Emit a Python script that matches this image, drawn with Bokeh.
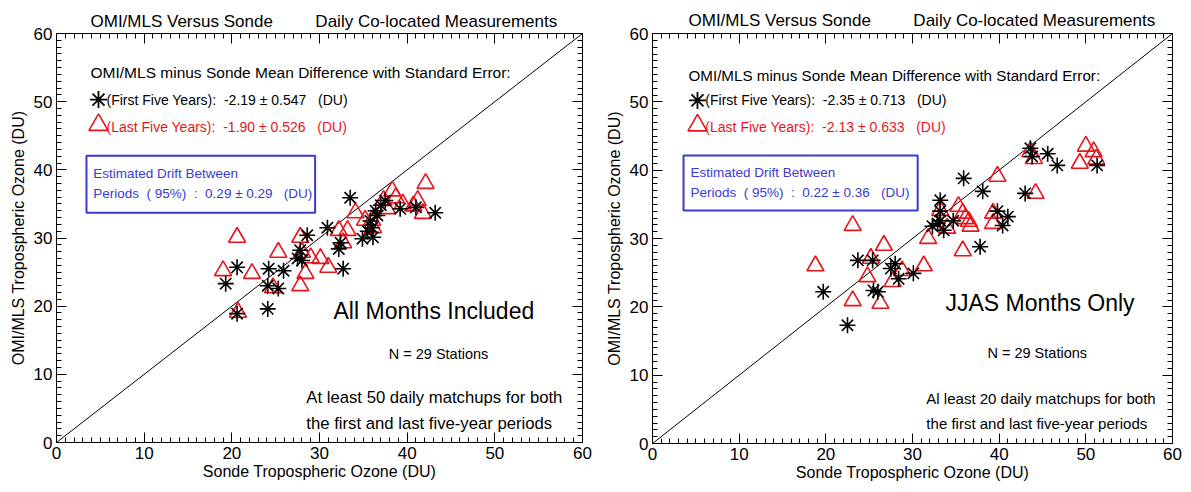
from bokeh.plotting import figure
from bokeh.models import (Range1d, SingleIntervalTicker, LinearAxis, Label, BoxAnnotation, Title)
from bokeh.layouts import row
from bokeh.embed import file_html
from bokeh.resources import INLINE

# ---------------- data ----------------
# All months panel
all_first_x = [19.3, 20.6, 20.6, 24.1, 24.2, 24.1, 25.9, 25.3, 27.8, 28.0, 28.6, 30.9, 32.4, 32.2,
               32.7, 33.5, 34.9, 36.1, 36.4, 36.6, 37.5, 39.2, 43.2, 36.0, 35.5, 41.0, 37.0, 27.5, 35.8]
all_first_y = [23.3, 25.7, 18.9, 19.6, 25.5, 23.0, 25.2, 22.6, 28.2, 26.7, 30.4, 31.5, 29.3, 28.4,
               25.5, 35.9, 29.9, 30.1, 34.0, 33.3, 35.5, 34.3, 33.7, 31.5, 31.0, 34.5, 34.8, 27.0, 32.5]
all_last_x = [20.6, 19.0, 20.7, 22.3, 25.3, 24.7, 27.8, 28.0, 28.4, 27.8, 30.1, 31.0, 29.0, 32.2,
              33.2, 32.7, 34.1, 35.2, 36.0, 36.1, 37.3, 38.3, 38.7, 39.5, 40.7, 41.2, 42.1, 41.8, 37.7]
all_last_y = [30.1, 25.2, 19.1, 24.8, 27.9, 22.7, 30.1, 27.9, 24.8, 23.0, 27.0, 25.7, 27.1, 31.1,
              31.1, 29.3, 33.7, 32.6, 32.6, 31.5, 35.5, 36.9, 35.9, 35.0, 34.7, 35.5, 38.0, 33.6, 34.3]

# JJAS panel
jjas_first_x = [22.5, 19.7, 23.7, 25.4, 25.5, 26.0, 27.5, 28.0, 28.4, 30.1, 32.3, 32.9, 33.2, 33.2,
                33.6, 34.7, 35.9, 37.8, 38.1, 39.8, 40.4, 41.0, 43.0, 43.6, 43.8, 45.6, 46.7, 51.3, 33.2]
jjas_first_y = [17.3, 22.2, 26.8, 26.8, 22.4, 22.2, 25.6, 26.3, 24.1, 24.9, 31.8, 32.2, 35.6, 34.0,
                31.2, 32.6, 38.8, 28.8, 36.9, 34.0, 31.9, 33.2, 36.6, 43.2, 42.0, 42.4, 40.7, 40.7, 32.6]
jjas_last_x = [18.8, 23.1, 23.1, 25.2, 26.3, 24.8, 26.7, 27.7, 28.8, 31.3, 31.8, 33.2, 34.0, 35.3,
               35.8, 36.5, 36.7, 35.8, 39.8, 39.3, 39.3, 44.2, 43.6, 44.0, 49.3, 50.0, 50.9, 51.2, 36.1]
jjas_last_y = [26.0, 31.9, 20.9, 27.1, 20.5, 24.4, 29.0, 23.7, 25.3, 26.0, 30.0, 34.1, 31.5, 34.7,
               33.7, 32.5, 31.8, 28.2, 39.1, 33.7, 32.2, 36.6, 42.7, 41.7, 41.0, 43.5, 42.7, 41.6, 32.9]

one_to_one = [0, 60]

NB = "\u00a0"
title_text = "OMI/MLS Versus Sonde" + NB * 9 + "Daily Co-located Measurements"
header = "OMI/MLS minus Sonde Mean Difference with Standard Error:"
x_label = "Sonde Tropospheric Ozone (DU)"
y_label = "OMI/MLS Tropospheric Ozone (DU)"

panels = [
    dict(fx=all_first_x, fy=all_first_y, lx=all_last_x, ly=all_last_y,
         first="(First Five Years):\u00a0 -2.19 \u00b1 0.547 \u00a0\u00a0(DU)",
         last="(Last Five Years):\u00a0 -1.90 \u00b1 0.526 \u00a0\u00a0(DU)",
         drift="Periods \u00a0( 95%) \u00a0: \u00a00.29 \u00b1 0.29 \u00a0\u00a0(DU)",
         big="All Months Included",
         note1="At least 50 daily matchups for both",
         note2="the first and last five-year periods"),
    dict(fx=jjas_first_x, fy=jjas_first_y, lx=jjas_last_x, ly=jjas_last_y,
         first="(First Five Years):\u00a0 -2.35 \u00b1 0.713 \u00a0\u00a0(DU)",
         last="(Last Five Years):\u00a0 -2.13 \u00b1 0.633 \u00a0\u00a0(DU)",
         drift="Periods \u00a0( 95%) \u00a0: \u00a00.22 \u00b1 0.36 \u00a0\u00a0(DU)",
         big="JJAS Months Only",
         note1="Al least 20 daily matchups for both",
         note2="the first and last five-year periods"),
]

FONT = "Liberation Sans Narrow, Arial Narrow, Liberation Sans, sans-serif"
RED = "#e8141c"
BLUE = "#3a3ad2"

# per-panel layout (styles / positions, in data units)
layouts = [
    dict(bl=56, fw=526, br=18, bt=33, fh=409, bb=50, toff=34, tso=5, hsz="15.5px", nsz="16.7px",
         hdr=(3.88, 54.25), k1=(4.79, 50.3), k2=(4.79, 46.3), tx=5.7,
         box=(3.42, 29.5, 33.72, 42.08), d1=(4.2, 39.5), d2=(4.2, 36.6),
         big=(31.6, 19.35), n=(37.9, 13.05), n1=(28.5, 6.6), n2=(28.5, 2.8)),
    dict(bl=52, fw=520, br=19, bt=30, fh=410, bb=52, toff=36, tso=8, hsz="15.2px", nsz="15px",
         hdr=(4.15, 53.9), k1=(5.19, 50.2), k2=(5.19, 46.25), tx=6.1,
         box=(3.58, 30.6, 34.1, 42.15), d1=(4.38, 39.6), d2=(4.38, 36.8),
         big=(33.8, 20.5), n=(38.65, 13.2), n1=(31.6, 6.6), n2=(31.6, 2.9)),
]


def make_panel(d, L):
    p = figure(frame_width=L["fw"], frame_height=L["fh"], min_border_left=L["bl"],
               min_border_right=L["br"], min_border_top=L["bt"], min_border_bottom=L["bb"],
               x_range=Range1d(0, 60), y_range=Range1d(0, 60),
               output_backend="svg", toolbar_location=None, tools="")
    p.title.visible = False
    p.xgrid.visible = False
    p.ygrid.visible = False
    p.outline_line_color = "black"
    p.outline_line_width = 1
    p.background_fill_color = "white"
    p.border_fill_color = "white"

    for ax in (p.xaxis[0], p.yaxis[0]):
        ax.ticker = SingleIntervalTicker(interval=10, num_minor_ticks=10)
        ax.major_tick_in = 10
        ax.major_tick_out = 0
        ax.minor_tick_in = 5
        ax.minor_tick_out = 0
        ax.axis_line_color = "black"
        ax.major_label_text_font = FONT
        ax.major_label_text_font_size = "17px"
        ax.major_label_text_color = "black"
        ax.axis_label_text_font = FONT
        ax.axis_label_text_font_size = "16px"
        ax.axis_label_text_font_style = "normal"
        ax.axis_label_text_color = "black"
        ax.major_label_standoff = 4
        ax.axis_label_standoff = 4
    p.xaxis[0].axis_label = x_label
    p.yaxis[0].axis_label = y_label
    p.xaxis[0].axis_label_standoff = 1

    for loc in ("right", "above"):
        ax = LinearAxis(ticker=SingleIntervalTicker(interval=10, num_minor_ticks=10))
        ax.major_tick_in = 10
        ax.major_tick_out = 0
        ax.minor_tick_in = 5
        ax.minor_tick_out = 0
        ax.major_label_text_font_size = "1px"
        ax.major_label_text_color = None
        ax.major_label_text_alpha = 0
        ax.major_label_standoff = 0
        ax.axis_line_color = "black"
        p.add_layout(ax, loc)

    p.add_layout(Title(text=title_text, text_font=FONT, text_font_size="17px",
                       text_font_style="normal", text_color="black", align="left",
                       offset=L["toff"], standoff=L["tso"]), "above")

    p.line(one_to_one, one_to_one, line_color="black", line_width=1)

    p.scatter(d["lx"], d["ly"], marker="triangle", size=17, fill_color=None,
              line_color=RED, line_width=1.6)
    p.scatter(d["fx"], d["fy"], marker="asterisk", size=16, line_color="black", line_width=1.6)

    def lab(x, y, text, size, color="black"):
        p.add_layout(Label(x=x, y=y, text=text, text_font=FONT, text_font_size=size,
                           text_color=color, text_baseline="middle", text_align="left"))

    lab(*L["hdr"], header, L["hsz"])
    p.scatter([L["k1"][0]], [L["k1"][1]], marker="asterisk", size=17, line_color="black", line_width=1.8)
    lab(L["tx"], L["k1"][1], d["first"], "14px")
    p.scatter([L["k2"][0]], [L["k2"][1] + 0.3], marker="triangle", size=19, fill_color=None,
              line_color=RED, line_width=1.6)
    lab(L["tx"], L["k2"][1], d["last"], "14px", RED)

    bx = L["box"]
    p.add_layout(BoxAnnotation(left=bx[0], right=bx[1], bottom=bx[2], top=bx[3],
                               fill_alpha=0, line_color=BLUE, line_alpha=1, line_width=2))
    lab(*L["d1"], "Estimated Drift Between", "13.5px", BLUE)
    lab(*L["d2"], d["drift"], "13.5px", BLUE)

    lab(*L["big"], d["big"], "23px")
    lab(*L["n"], "N = 29 Stations", "14.5px")
    lab(*L["n1"], d["note1"], L["nsz"])
    lab(*L["n2"], d["note2"], L["nsz"])
    return p


figs = [make_panel(d, L) for d, L in zip(panels, layouts)]
layout = row(*figs, spacing=0)

open("out.html", "w").write(file_html(layout, INLINE))
